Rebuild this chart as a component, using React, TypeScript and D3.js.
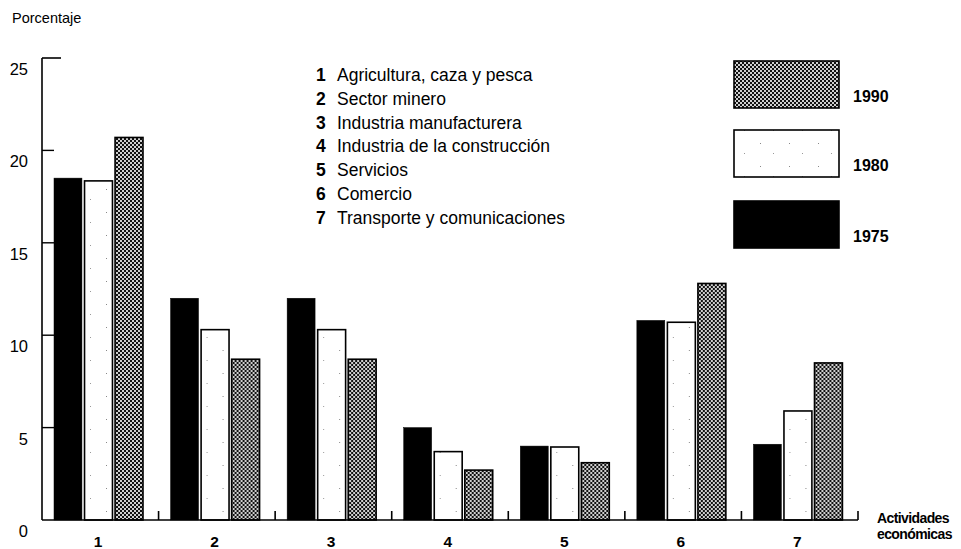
import React from "react";
import * as d3 from "d3";

const categories = ["1", "2", "3", "4", "5", "6", "7"];
const seriesYears = ["1975", "1980", "1990"];
const values1975 = [18.5, 12.0, 12.0, 5.0, 4.0, 10.8, 4.1];
const values1980 = [18.35, 10.3, 10.3, 3.7, 3.95, 10.7, 5.9];
const values1990 = [20.7, 8.7, 8.7, 2.7, 3.1, 12.8, 8.5];
const yTicks = [0, 5, 10, 15, 20, 25];
const activityNames = [
  "Agricultura, caza y pesca",
  "Sector minero",
  "Industria manufacturera",
  "Industria de la construcción",
  "Servicios",
  "Comercio",
  "Transporte y comunicaciones",
];
const legendOrder = ["1990", "1980", "1975"];

const FONT = "'Liberation Sans', Arial, Helvetica, sans-serif";

export default function App() {
  const W = 961;
  const H = 549;
  const x0 = 42;
  const x1 = 858;
  const yBase = 520;
  const yTop = 58;

  const y = d3.scaleLinear().domain([0, 25]).range([yBase, yTop]);
  const xGroup = d3.scaleBand<string>().domain(categories).range([x0, x1]).padding(0);
  const gw = xGroup.bandwidth();
  const xInner = d3
    .scaleBand<string>()
    .domain(seriesYears)
    .range([12, 101])
    .paddingInner(0.085)
    .paddingOuter(0);

  const dataBySeries: Record<string, number[]> = {
    "1975": values1975,
    "1980": values1980,
    "1990": values1990,
  };

  const fillFor = (s: string) =>
    s === "1975" ? "#000" : s === "1980" ? "url(#dots)" : "url(#checker)";
  const strokeFor = (s: string) => "#000";

  const legendBoxY: Record<string, number> = { "1990": 61, "1980": 130, "1975": 201 };

  return (
    <svg width={W} height={H} style={{ display: "block", position: "absolute", left: 0, top: 0 }}>
      <defs>
        <pattern id="checker" width="4" height="4" patternUnits="userSpaceOnUse">
          <rect x="0" y="0" width="4" height="4" fill="#cfcfcf" />
          <rect x="0" y="0" width="2" height="2" fill="#111" />
          <rect x="2" y="2" width="2" height="2" fill="#111" />
        </pattern>
        <pattern id="dots" width="29" height="23" patternUnits="userSpaceOnUse">
          <rect x="0" y="0" width="29" height="23" fill="#fff" />
          <rect x="6" y="5" width="1" height="1" fill="#888" />
          <rect x="19" y="15" width="1" height="1" fill="#999" />
        </pattern>
      </defs>
      <rect x="0" y="0" width={W} height={H} fill="#fff" />

      <text x={12} y={23} fontFamily={FONT} fontSize={14.5} fill="#000">
        Porcentaje
      </text>

      {/* Bars */}
      {categories.map((c, i) => (
        <g key={c} transform={`translate(${xGroup(c)},0)`}>
          {seriesYears.map((s) => {
            const v = dataBySeries[s][i];
            const bx = xInner(s)!;
            return (
              <rect
                key={s}
                x={bx}
                y={y(v)}
                width={xInner.bandwidth()}
                height={yBase - y(v)}
                fill={fillFor(s)}
                stroke={strokeFor(s)}
                strokeWidth={s === "1975" ? 0.5 : 1.6}
              />
            );
          })}
        </g>
      ))}

      {/* Y axis */}
      <line x1={x0} y1={yTop} x2={x0} y2={yBase} stroke="#000" strokeWidth={1.6} />
      <line x1={x0} y1={yTop} x2={x0 + 19} y2={yTop} stroke="#000" strokeWidth={1.6} />
      {yTicks
        .filter((t) => t > 0 && t < 25)
        .map((t) => (
          <line key={t} x1={x0} y1={y(t)} x2={x0 + 12} y2={y(t)} stroke="#000" strokeWidth={1.4} />
        ))}
      {yTicks.map((t) => (
        <text
          key={t}
          x={28}
          y={y(t) + 17}
          textAnchor="end"
          fontFamily={FONT}
          fontSize={16.5}
          fill="#000"
        >
          {t}
        </text>
      ))}

      {/* X axis */}
      <line x1={x0} y1={yBase} x2={x1} y2={yBase} stroke="#000" strokeWidth={1.6} />
      {categories.map((c) => (
        <line
          key={c}
          x1={xGroup(c)! + gw}
          y1={yBase}
          x2={xGroup(c)! + gw}
          y2={yBase - 9}
          stroke="#000"
          strokeWidth={1.6}
        />
      ))}
      {categories.map((c) => (
        <text
          key={c}
          x={xGroup(c)! + 56}
          y={547}
          textAnchor="middle"
          fontFamily={FONT}
          fontSize={15.5}
          fontWeight="bold"
          fill="#000"
        >
          {c}
        </text>
      ))}
      <text x={877} y={523} fontFamily={FONT} fontSize={14} fontWeight="bold" letterSpacing={-0.6} fill="#000">
        Actividades
      </text>
      <text x={877} y={539} fontFamily={FONT} fontSize={14} fontWeight="bold" letterSpacing={-0.6} fill="#000">
        económicas
      </text>

      {/* Activity list */}
      {activityNames.map((n, i) => (
        <g key={n}>
          <text x={316} y={81 + i * 23.8} fontFamily={FONT} fontSize={17.5} fontWeight="bold" fill="#000">
            {categories[i]}
          </text>
          <text x={337} y={81 + i * 23.8} fontFamily={FONT} fontSize={17.5} fill="#000">
            {n}
          </text>
        </g>
      ))}

      {/* Legend */}
      {legendOrder.map((s) => (
        <g key={s}>
          <rect
            x={734}
            y={legendBoxY[s]}
            width={105}
            height={47}
            fill={fillFor(s)}
            stroke={strokeFor(s)}
            strokeWidth={1.6}
          />
          <text x={853} y={legendBoxY[s] + 41} fontFamily={FONT} fontSize={16} fontWeight="bold" fill="#000">
            {s}
          </text>
        </g>
      ))}
    </svg>
  );
}
